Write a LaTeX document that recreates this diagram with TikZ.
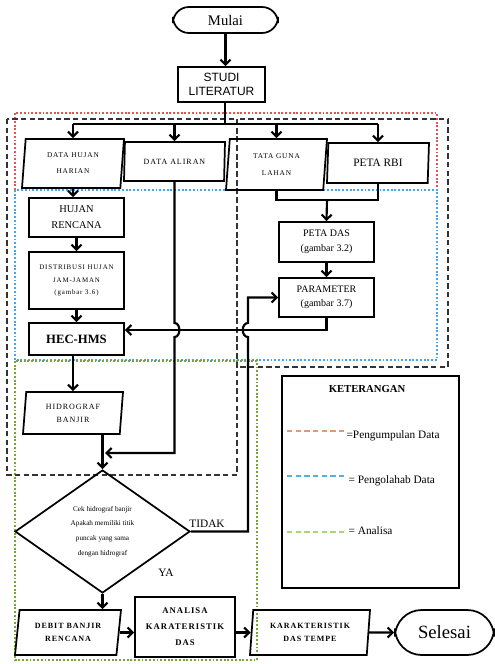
\documentclass[tikz,border=0pt]{standalone}
\usepackage{fontspec}
\setmainfont{Liberation Serif}
\newfontfamily\lsfont[LetterSpace=12]{Liberation Serif}
\newfontfamily\sansf{Liberation Sans}
\usetikzlibrary{shapes.geometric,arrows.meta,calc}
\newcommand\fz[2]{\fontsize{#1}{#2}\selectfont}
\definecolor{rdot}{HTML}{E05555}
\definecolor{bdot}{HTML}{4DA3E6}
\definecolor{gdot}{HTML}{76A33C}
\definecolor{lgor}{HTML}{D99C74}
\definecolor{lgbl}{HTML}{52B2E2}
\definecolor{lggr}{HTML}{A6D877}
\begin{document}
\begin{tikzpicture}[x=0.75pt,y=-0.75pt,
  box/.style={draw, line width=1.3pt, inner sep=0pt, align=center},
  sz/.style 2 args={minimum width=#1*0.75pt, minimum height=#2*0.75pt},
  para/.style={box, trapezium, trapezium left angle=80, trapezium right angle=100, trapezium stretches body},
  ln/.style={line width=1.6pt},
  arr/.style={line width=1.6pt, -{Straight Barb[length=3.8pt,width=7.5pt]}},
  region/.style={line width=1.4pt, dash pattern=on 1.4pt off 1.4pt},
  grp/.style={line width=1.1pt, draw=black!80, dash pattern=on 4pt off 2.5pt},
  lab/.style={inner sep=1pt}]
\useasboundingbox (0,0) rectangle (495,664);
\fill[white] (0,0) rectangle (495,664);

% regions
\draw[region, rdot] (15,190) -- (15,113) -- (437,113) -- (437,190);
\draw[region, bdot] (15,190) rectangle (437,360);
\draw[region, gdot] (15,361) rectangle (257,660);
\draw[grp] (7,119) rectangle (237,475);
\draw[grp] (237,119) rectangle (448,367);

% nodes
\node[box, sz={105}{26}, rounded corners=12pt, font=\fz{11}{13}] (mulai) at (225.5,20) {Mulai};
\node[box, sz={87}{35}, font={\sansf\fz{9}{10}}] (studi) at (221.5,84.5) {STUDI\\LITERATUR};
\node[para, sz={102}{49}, font={\lsfont\fz{5.5}{12}}] (dhh) at (73,163.5) {DATA HUJAN\\HARIAN};
\node[para, sz={101}{39}, font={\lsfont\fz{6}{7}}] (dal) at (174.5,161.5) {DATA ALIRAN};
\node[para, sz={101}{51}, font={\lsfont\fz{5.5}{12.5}}] (tgl) at (276.5,164.5) {TATA GUNA\\LAHAN};
\node[para, sz={102}{40}, font=\fz{8.5}{10}] (rbi) at (378,163) {PETA RBI};
\node[box, sz={95}{40}, font=\fz{7.5}{11}] (das) at (326.5,242) {PETA DAS\\(gambar 3.2)};
\node[box, sz={95}{39}, font=\fz{7.5}{10.5}] (par) at (326.5,297.5) {PARAMETER\\(gambar 3.7)};
\node[box, sz={95}{39}, font=\fz{7.8}{12}] (hr) at (76.5,217.5) {HUJAN\\RENCANA};
\node[box, sz={95}{57}, font={\lsfont\fz{5.2}{9.4}}] (dist) at (76.5,280.5) {DISTRIBUSI HUJAN\\JAM-JAMAN\\(gambar 3.6)};
\node[box, sz={95}{32}, font={\bfseries\fz{9.5}{11}}] (hec) at (76.5,339) {HEC-HMS};
\node[para, sz={100}{42}, font={\lsfont\fz{6}{9.75}}] (hid) at (73,413) {HIDROGRAF\\BANJIR};
\node[box, diamond, sz={175}{123}, font=\fz{5.4}{11}] (cek) at (102.5,531.5) {Cek hidrograf banjir\\Apakah memiliki titik\\puncak yang sama\\dengan hidrograf};
\node[para, sz={106}{45}, trapezium left angle=76, trapezium right angle=104, font={\lsfont\bfseries\fz{6}{9.75}}] (debit) at (68,632.5) {DEBIT BANJIR\\RENCANA};
\node[box, sz={100}{60}, font={\lsfont\bfseries\fz{6.5}{12}}] (ana) at (185,627) {ANALISA\\KARATERISTIK\\DAS};
\node[para, sz={120}{45}, font={\lsfont\bfseries\fz{6}{9.75}}] (kar) at (310,632.5) {KARAKTERISTIK\\DAS TEMPE};
\node[box, sz={99}{45}, rounded corners=20pt, font=\fz{14}{16}] (sel) at (444.5,632.5) {Selesai};

% labels
\node[lab, font=\fz{8.5}{10}] (tidak) at (207,524) {TIDAK};
\node[lab, font=\fz{8.5}{10}] (ya) at (166,573) {YA};

% legend
\node[draw, line width=1.1pt, sz={177}{212}] (leg) at (370.5,482) {};
\node[lab, font={\bfseries\fz{8}{10}}] (ket) at (367,389) {KETERANGAN};
\draw[line width=1.3pt, lgor, dash pattern=on 4pt off 2.5pt] (287,431) -- (345,431);
\draw[line width=1.3pt, lgbl, dash pattern=on 4pt off 2.5pt] (287,476) -- (345,476);
\draw[line width=1.3pt, lggr, dash pattern=on 4pt off 2.5pt] (287,532) -- (345,532);
\node[lab, anchor=west, font=\fz{8.5}{10}] (l1) at (345,436) {=Pengumpulan Data};
\node[lab, anchor=west, font=\fz{8.5}{10}] (l2) at (347,481) {= Pengolahab Data};
\node[lab, anchor=west, font=\fz{8.5}{10}] (l3) at (347,531) {= Analisa};

% connectors
\coordinate (bus) at (225,124);
\coordinate (merge) at (327,200);
\draw[arr] (mulai.south) -- (mulai.south |- studi.north);
\draw[ln] (studi.south -| bus) -- (bus);
\draw[ln] (bus -| dhh.north) -- (bus -| rbi.north);
\draw[arr] (bus -| dhh.north) -- (dhh.north);
\draw[arr] (bus -| dal.north) -- (dal.north);
\draw[arr] (bus -| tgl.north) -- (tgl.north);
\draw[arr] (bus -| rbi.north) -- (rbi.north);
\draw[arr] (dhh.south) -- (dhh.south |- hr.north);
\draw[arr] (hr.south) -- (dist.north);
\draw[arr] (dist.south) -- (hec.north);
\draw[arr] (hid.north |- hec.south) -- (hid.north);
\draw[ln] (tgl.south) |- (merge) -| (rbi.south);
\draw[arr] (merge) -- (das.north);
\draw[arr] (das.south) -- (par.north);
\draw[arr] (par.south) |- ([yshift=6.75pt]hec.east);
\draw[arr] (dal.south) -- (174.5,323) .. controls (181,323) and (181,337) .. (174.5,337) -- (174.5,453) -- (105,453);
\draw[arr] (cek.north |- hid.south) -- (cek.north);
\draw[arr] (cek.east) -- (248,531.5) -- (248,337) .. controls (241,337) and (241,323) .. (248,323) -- (248,297.5) -- (par.west);
\draw[arr] (cek.south) -- (cek.south |- debit.north);
\draw[arr] (debit.east) -- (debit.east -| ana.west);
\draw[arr] (kar.west -| ana.east) -- (kar.west);
\draw[arr] (kar.east) -- (sel.west);
\end{tikzpicture}
\end{document}
